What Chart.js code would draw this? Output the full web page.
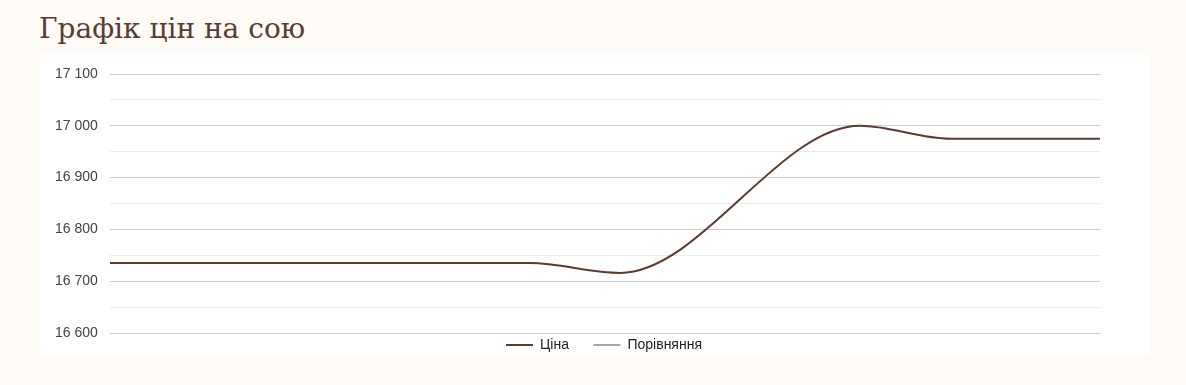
<!DOCTYPE html>
<html lang="uk">
<head>
<meta charset="utf-8">
<title>Графік цін на сою</title>
<script src="https://cdn.jsdelivr.net/npm/chart.js@4/dist/chart.umd.min.js"></script>
<style>
    html, body { margin: 0; padding: 0; background: #fffbf7; }
    body { width: 1186px; height: 385px; position: relative; overflow: hidden; }
    h2 {
        position: absolute; left: 39px; top: 12px; margin: 0;
        font-family: "DejaVu Serif", serif; font-weight: normal;
        font-size: 28px; color: #5a3b31;
    }
    .card { position: absolute; left: 40px; top: 53px; width: 1110px; height: 303px; background: #fff; }
    .wrap { position: absolute; left: 40px; top: 53px; width: 1110px; height: 309px; }
</style>
</head>
<body>
<h2>Графік цін на сою</h2>
<div class="card"></div>
<div class="wrap"><canvas id="priceChart"></canvas></div>
<script>
// дні (від початку періоду) та ціни, грн/т
const days = [0, 14, 17, 25, 28, 33];
const prices = [16735, 16735, 16716, 17000, 16975, 16975];
const compare = [];
const seriesNames = ['Ціна', 'Порівняння'];
const yMin = 16600;
const yMax = 17100;

const ctx = document.getElementById('priceChart').getContext('2d');

function formatPrice(v) {
    return String(v).replace(/\B(?=(\d{3})+(?!\d))/g, ' ');
}

const labelFont = { family: 'Arial, "Liberation Sans", sans-serif', size: 14 };

const myChart = new Chart(ctx, {
    type: 'line',
    data: {
        datasets: [
            {
                label: seriesNames[0],
                data: days.map((d, i) => ({ x: d, y: prices[i] })),
                borderColor: '#5b3a30',
                backgroundColor: '#5b3a30',
                borderWidth: 2,
                pointRadius: 0,
                cubicInterpolationMode: 'monotone',
            },
            {
                label: seriesNames[1],
                data: compare,
                borderColor: '#a7a898',
                backgroundColor: '#a7a898',
                borderWidth: 2,
                pointRadius: 0,
            },
        ],
    },
    options: {
        responsive: true,
        maintainAspectRatio: false,
        animation: false,
        layout: { padding: { top: 21, right: 50, left: 68, bottom: 0 } },
        plugins: {
            tooltip: { enabled: false },
            legend: {
                position: 'bottom',
                labels: {
                    usePointStyle: true,
                    pointStyle: 'line',
                    pointStyleWidth: 27,
                    padding: 5,
                    color: '#222',
                    font: labelFont,
                    generateLabels: (chart) => {
                        const items = Chart.defaults.plugins.legend.labels.generateLabels(chart);
                        // ширший проміжок між пунктами легенди
                        items.forEach((it, i) => {
                            if (i < items.length - 1) it.text += '     ';
                        });
                        return items;
                    },
                },
            },
        },
        scales: {
            x: { type: 'linear', min: 0, max: 33, display: false },
            y: {
                min: yMin,
                max: yMax,
                afterFit: (scale) => { scale.width = 2; },
                border: { display: false },
                grid: {
                    drawTicks: false,
                    color: (c) => (c.tick && c.tick.value % 100 === 0 ? '#cccccc' : '#ebebeb'),
                },
                ticks: {
                    stepSize: 50,
                    mirror: true,
                    padding: -55,
                    color: '#444',
                    font: labelFont,
                    callback: (v) => (v % 100 === 0 ? formatPrice(v) : ''),
                },
            },
        },
    },
});
</script>
</body>
</html>
